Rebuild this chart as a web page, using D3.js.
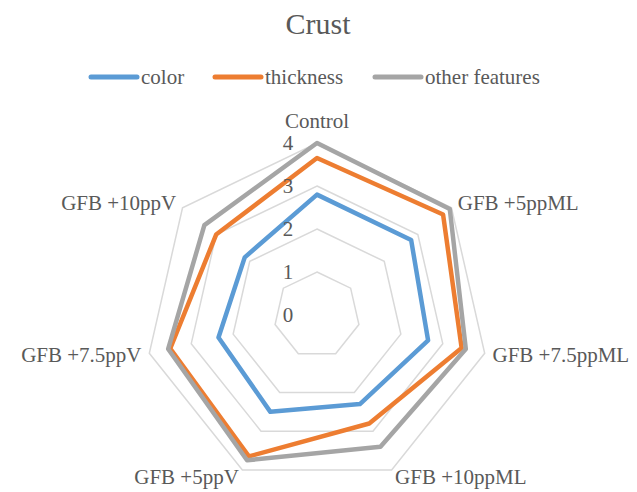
<!DOCTYPE html>
<html>
<head>
<meta charset="utf-8">
<script src="https://cdn.jsdelivr.net/npm/d3@7"></script>
<style>
  body { margin: 0; background: #fff; }
  #chart { position: relative; width: 637px; height: 492px; }
  #chart svg { position: absolute; left: 0; top: 0; }
</style>
</head>
<body>
<div id="chart"></div>
<script>
// chart data
const categories = ["Control", "GFB +5ppML", "GFB +7.5ppML", "GFB +10ppML", "GFB +5ppV", "GFB +7.5ppV", "GFB +10ppV"];
const seriesNames = ["color", "thickness", "other features"];
const colorValues = [2.8, 2.8, 2.65, 2.3, 2.5, 2.35, 2.15];
const thicknessValues = [3.65, 3.75, 3.45, 2.8, 3.65, 3.5, 3.0];
const otherValues = [4.0, 3.95, 3.55, 3.4, 3.75, 3.55, 3.35];
const ticks = [0, 1, 2, 3, 4];

const width = 637, height = 492;
const cx = 317, cy = 315;
const colors = ["#5b9bd5", "#ed7d31", "#a5a5a5"];

const container = d3.select("#chart");
const svg = container.append("svg")
    .attr("width", width)
    .attr("height", height);

// texts are html labels laid over the svg (serif face)
function label(x, y, txt, size, anchor) {
  const shift = anchor === "middle" ? "-50%" : anchor === "end" ? "-100%" : "0";
  return container.append("div")
    .attr("style", `font-family:'Liberation Serif'; position:absolute; left:${x}px; top:${y}px; ` +
      `font-size:${size}px; color:#595959; white-space:nowrap; line-height:1; ` +
      `transform:translate(${shift}, -50%)`)
    .text(txt);
}

// radius scale
const r = d3.scaleLinear().domain([0, 4]).range([0, 172]);
const angle = d3.scalePoint().domain(categories).range([0, 2 * Math.PI * 6 / 7]);

const g = svg.append("g").attr("transform", `translate(${cx},${cy})`);

// title
label(318, 24, "Crust", 30, "middle");

// legend
const legendItems = [
  { name: seriesNames[0], x: 91 },
  { name: seriesNames[1], x: 215 },
  { name: seriesNames[2], x: 375 }
];
legendItems.forEach((d, i) => {
  svg.append("line")
    .attr("x1", d.x).attr("x2", d.x + 46)
    .attr("y1", 77).attr("y2", 77)
    .attr("stroke", colors[i])
    .attr("stroke-width", 5)
    .attr("stroke-linecap", "round");
  label(d.x + 50, 77, d.name, 21, "start");
});

// gridlines (heptagons)
const grid = d3.lineRadial()
    .angle(d => angle(d[0]))
    .radius(d => r(d[1]))
    .curve(d3.curveLinearClosed);

g.selectAll(".ring")
  .data(ticks.filter(t => t > 0))
  .join("path")
    .attr("class", "ring")
    .attr("d", t => grid(categories.map(c => [c, t])))
    .attr("fill", "none")
    .attr("stroke", "#d9d9d9")
    .attr("stroke-width", 1.5);

// tick labels
ticks.forEach(t => label(cx - 29, cy - r(t), t, 21, "middle"));

// category labels
categories.forEach(c => {
  const a = angle(c);
  const dx = Math.sin(a), dy = -Math.cos(a);
  const rr = r(4) + 8;
  let x = cx + dx * rr, y = cy + dy * rr;
  let anchor = "middle";
  if (dx > 0.1) anchor = "start";
  if (dx < -0.1) anchor = "end";
  if (dy < -0.9) y -= 14;
  label(x, y, c, 21, anchor);
});

// series
const seriesValues = [colorValues, thicknessValues, otherValues];
g.selectAll(".series")
  .data(seriesValues)
  .join("path")
    .attr("class", "series")
    .attr("d", vals => grid(categories.map((c, i) => [c, vals[i]])))
    .attr("fill", "none")
    .attr("stroke", (d, i) => colors[i])
    .attr("stroke-width", 4.5)
    .attr("stroke-linejoin", "round");
</script>
</body>
</html>
